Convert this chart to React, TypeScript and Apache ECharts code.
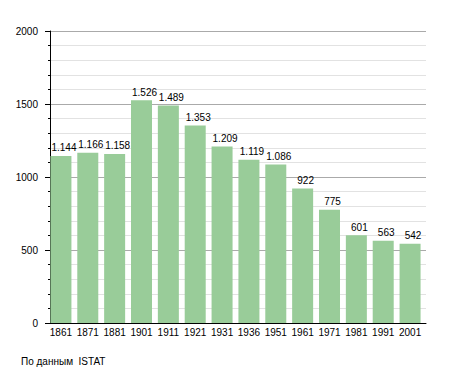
import React, { useEffect, useRef } from "react";
import * as echarts from "echarts";

const years = ["1861", "1871", "1881", "1901", "1911", "1921", "1931", "1936", "1951", "1961", "1971", "1981", "1991", "2001"];
const population = [1144, 1166, 1158, 1526, 1489, 1353, 1209, 1119, 1086, 922, 775, 601, 563, 542];
const yMax = 2000;
const yInterval = 500;
const sourceNote = "По данным  ISTAT";

const FONT = "'Liberation Sans', Arial, sans-serif";

function fmt(v: number): string {
  if (v >= 1000) {
    return Math.floor(v / 1000) + "." + String(v % 1000).padStart(3, "0");
  }
  return String(v);
}

export default function App() {
  const ref = useRef<HTMLDivElement>(null);
  useEffect(() => {
    if (!ref.current) return;
    const chart = echarts.init(ref.current, undefined, { renderer: "svg" });
    chart.setOption({
      animation: false,
      textStyle: { fontFamily: FONT },
      grid: [
        { left: 50, right: 29, top: 31, bottom: 50 },
        { left: 47.5, right: 31.5, top: 31, bottom: 50 },
      ],
      xAxis: [
        {
          gridIndex: 0,
          type: "value",
          min: 0,
          max: 1,
          z: 10,
          axisLine: { show: true, lineStyle: { color: "#000", width: 1 } },
          axisTick: { show: false },
          axisLabel: { show: false },
          splitLine: { show: false },
        },
        {
          gridIndex: 1,
          type: "category",
          data: years,
          axisLine: { show: false },
          axisTick: { show: false },
          axisLabel: { color: "#000", fontSize: 10, margin: 4, interval: 0, fontFamily: FONT },
          splitLine: { show: false },
        },
      ],
      yAxis: [
        {
          gridIndex: 0,
          type: "value",
          min: 0,
          max: yMax,
          interval: yInterval,
          axisLine: { show: true, lineStyle: { color: "#000", width: 1 } },
          axisTick: { show: true, length: 5, lineStyle: { color: "#000" } },
          minorTick: { show: true, splitNumber: 5, length: 2, lineStyle: { color: "#000" } },
          axisLabel: {
            color: "#000",
            fontSize: 10,
            margin: 12,
            fontFamily: FONT,
            formatter: (v: number) => String(v),
          },
          splitLine: { show: true, lineStyle: { color: "#aaaaaa", width: 1 } },
          minorSplitLine: { show: true, lineStyle: { color: "#e2e2e2", width: 1 } },
        },
        {
          gridIndex: 1,
          type: "value",
          min: 0,
          max: yMax,
          show: false,
          splitLine: { show: false },
        },
      ],
      series: [
        {
          type: "bar",
          xAxisIndex: 1,
          yAxisIndex: 1,
          data: population,
          barWidth: 21,
          itemStyle: { color: "#99cc99" },
          label: {
            show: true,
            position: "top",
            distance: 3,
            offset: [3, 0],
            color: "#000",
            fontSize: 10,
            fontFamily: FONT,
            formatter: (p: any) => fmt(p.value),
          },
        },
      ],
      graphic: [
        {
          type: "text",
          left: 21,
          top: 356,
          style: { text: sourceNote, fill: "#000", fontSize: 10, fontFamily: FONT },
        },
      ],
    });
    return () => chart.dispose();
  }, []);
  return (
    <div
      ref={ref}
      style={{ position: "fixed", left: 0, top: 0, width: 455, height: 373, background: "#fff" }}
    />
  );
}
